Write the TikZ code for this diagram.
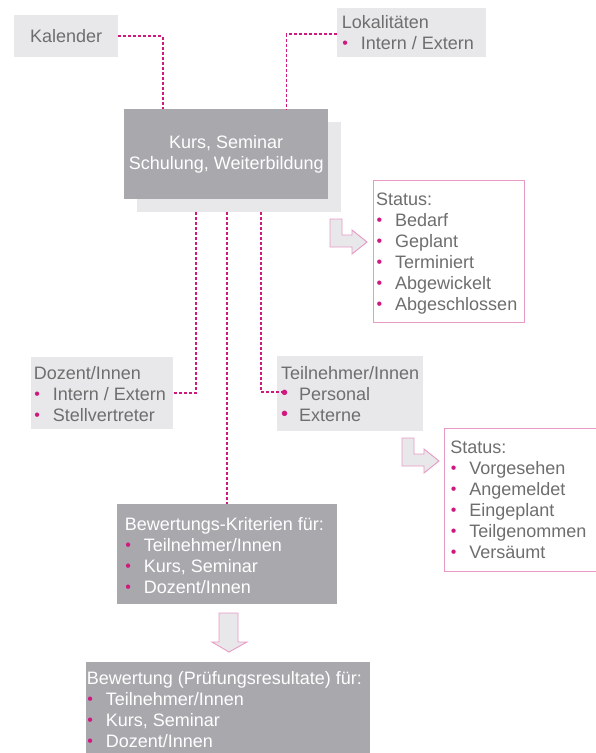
\documentclass[tikz,border=0pt]{standalone}
\usepackage{fontspec}
\setmainfont{Liberation Sans}
\usetikzlibrary{calc}
\definecolor{lgray}{HTML}{E8E8EA}
\definecolor{dgray}{HTML}{A9A8AD}
\definecolor{tgray}{HTML}{6E6E6E}
\definecolor{mag}{HTML}{D0197F}
\definecolor{pinkb}{HTML}{E89AC6}
% #1 bullet size, #2 box width, #3 left space, #4 raise
\newcommand\bux[4]{\makebox[#2][l]{\hspace{#3}\raisebox{#4}{\textcolor{mag}{\fontsize{#1}{#1}\selectfont •}}}}
\newcommand\bu{\bux{16}{19pt}{0.5pt}{1pt}}
\begin{document}
\begin{tikzpicture}[x=1pt,y=-1pt,
  basebox/.style={rectangle,inner sep=0pt,anchor=north west},
  lbox/.style={basebox,fill=lgray},
  dbox/.style={basebox,fill=dgray},
  sbox/.style={basebox,fill=white,draw=pinkb,line width=0.9pt},
  txt/.style={inner sep=0pt,anchor=north west,align=left,font=\fontsize{18}{21}\selectfont},
  conn/.style={draw=mag,line width=1.8pt,dash pattern=on 3pt off 2pt},
  barrow/.style={fill=lgray,draw=pinkb,line width=0.9pt,line join=miter}]
\useasboundingbox (0,0) rectangle (596,753);
\fill[white] (0,0) rectangle (596,753);

% top boxes
\node[lbox,minimum width=104pt,minimum height=42pt,text=tgray,font=\fontsize{18}{21}\selectfont] (kal) at (14,15) {Kalender};
\node[lbox,minimum width=149pt,minimum height=49pt] (lok) at (337,8) {};
\node[txt,text=tgray] (lokt) at (341.7,13.3) {\strut Lokalitäten\\\bu Intern / Extern};

% main box with shadow
\node[lbox,minimum width=204pt,minimum height=90pt] (shad) at (137,122) {};
\node[dbox,minimum width=204pt,minimum height=90pt,align=center,text=white,font=\fontsize{18}{21}\selectfont] (main) at (124,109) {Kurs, Seminar\\Schulung, Weiterbildung};

% status 1
\node[sbox,minimum width=151pt,minimum height=142pt] (s1) at (373,180) {};
\node[txt,text=tgray] (s1t) at (376,190.3) {\strut Status:\\\bu Bedarf\\\bu Geplant\\\bu Terminiert\\\bu Abgewickelt\\\bu Abgeschlossen};

% Dozent
\node[lbox,minimum width=142pt,minimum height=72pt] (doz) at (31,357) {};
\node[txt,text=tgray] (dozt) at (33.6,364.3) {\strut Dozent/Innen\\\bu Intern / Extern\\\bu Stellvertreter};

% Teilnehmer
\node[lbox,minimum width=146pt,minimum height=75pt] (teil) at (277,356) {};
\node[txt,text=tgray] (teilt) at (280.8,364.3) {\strut Teilnehmer/Innen\\\bux{20}{18pt}{0pt}{0.3pt}Personal\\\bux{20}{18pt}{0pt}{0.3pt}Externe};

% status 2
\node[sbox,minimum width=151.5pt,minimum height=143pt] (s2) at (444,428) {};
\node[txt,text=tgray] (s2t) at (450.2,438.3) {\strut Status:\\\bu Vorgesehen\\\bu Angemeldet\\\bu Eingeplant\\\bu Teilgenommen\\\bu Versäumt};

% Bewertungs-Kriterien
\node[dbox,minimum width=220pt,minimum height=100pt] (bk) at (117,504) {};
\node[txt,text=white] (bkt) at (124.7,515.3) {\strut Bewertungs-Kriterien für:\\\bu Teilnehmer/Innen\\\bu Kurs, Seminar\\\bu Dozent/Innen};

% Bewertung
\node[dbox,minimum width=284pt,minimum height=100pt] (bew) at (86,662) {};
\node[txt,text=white] (bewt) at (86.7,669.3) {\strut Bewertung (Prüfungsresultate) für:\\\bu Teilnehmer/Innen\\\bu Kurs, Seminar\\\bu Dozent/Innen};

% connectors
\draw[conn] (kal.east) -| ($(main.north west)+(39,0)$);
\draw[conn] ([yshift=-1.5pt]lok.west) -| ($(main.north east)+(-42,0)$);
\coordinate (d1) at ($(shad.south west)+(59,0)$);
\coordinate (d3) at ($(shad.south west)+(124,0)$);
\draw[conn] (d1) |- (doz.east);
\draw[conn] (d3) |- ([yshift=1.5pt,xshift=7pt]teil.west);
\draw[conn] (bk.north |- shad.south) -- (bk.north);

% block arrows
\draw[barrow] (330,219) -- (342,219) -- (342,235) -- (352,235) -- (352,230) -- (367,242) -- (352,254) -- (352,247) -- (330,247) -- cycle;
\begin{scope}[shift={(72,219)}]
\draw[barrow] (330,219) -- (342,219) -- (342,235) -- (352,235) -- (352,230) -- (367,242) -- (352,254) -- (352,247) -- (330,247) -- cycle;
\end{scope}
\draw[barrow] (219,613) -- (238,613) -- (238,642) -- (247,642) -- (229,652) -- (212,642) -- (219,642) -- cycle;
\end{tikzpicture}
\end{document}
